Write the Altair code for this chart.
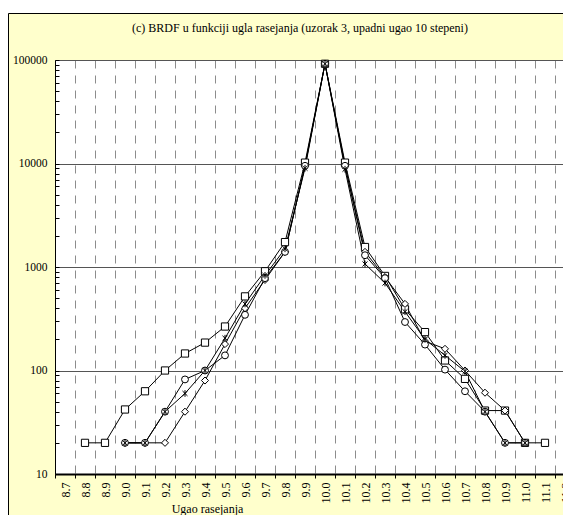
import altair as alt
import pandas as pd

labels = ['8.7', '8.8', '8.9', '9.0', '9.1', '9.2', '9.3', '9.4', '9.5', '9.6', '9.7', '9.8', '9.9',
          '10.0', '10.1', '10.2', '10.3', '10.4', '10.5', '10.6', '10.7', '10.8', '10.9', '11.0', '11.1', '11.2']

sq_x = labels[1:25]
sq_y = [20, 20, 42, 63, 100, 146, 186, 266, 520, 910, 1740, 10200, 92000, 10200, 1560, 820, 390, 235,
        125, 83, 41, 41, 20, 20]

st_x = labels[3:24]
st_y = [20, 20, 40, 60, 100, 205, 440, 830, 1500, 9000, 92000, 8800, 1070, 700, 370, 200, 140, 98, 40, 20, 20]

ci_x = labels[3:24]
ci_y = [20, 20, 40, 82, 100, 140, 345, 780, 1400, 9500, 92000, 9500, 1300, 780, 294, 178, 102, 63, 40, 20, 20]

di_x = labels[3:24]
di_y = [20, 20, 20, 40, 80, 180, 400, 750, 1400, 9500, 92000, 9500, 1400, 800, 440, 192, 162, 100, 61, 41, 20]

major_y = [10, 100, 1000, 10000, 100000]
minor_y = [m * d for d in [10, 100, 1000, 10000] for m in range(1, 10)] + [100000]

rows = []
for name, xs, ys in [('S', sq_x, sq_y), ('D', di_x, di_y), ('C', ci_x, ci_y), ('T', st_x, st_y)]:
    for xv, yv in zip(xs, ys):
        rows.append({'series': name, 'ugao': xv, 'brdf': yv, 'ugao_i': labels.index(xv)})
df = pd.DataFrame(rows)

W, H = 508, 414
FONT = 'Liberation Serif'

xscale = alt.Scale(type='band', domain=labels, paddingInner=0, paddingOuter=0, range=[0, 520])
yscale = alt.Scale(type='log', domain=[10, 100000])

xaxis = alt.Axis(tickBand='extent', grid=True, gridDash=[8, 7], gridColor='#8c8c8c',
                 gridWidth=1, ticks=True, tickSize=4, tickColor='black',
                 domainColor='black', domainWidth=2, labelAngle=270, labelFont=FONT,
                 labelFontSize=12, labelColor='black', labelPadding=4, labelOverlap=False,
                 labelBound=False, labelFlush=False, titleFont=FONT, titleFontSize=12,
                 titleFontWeight='normal', titleColor='black', titleX=152, titleY=38,
                 titleAnchor='middle', titleBaseline='alphabetic')

star_path = 'M-0.75,-0.75L0.75,0.75M-0.75,0.75L0.75,-0.75M0,-1L0,1'

one = pd.DataFrame({'k': [0]})
strip = alt.Chart(one).mark_rect(fill='white', stroke=None).encode(
    x=alt.value(-47), x2=alt.value(600), y=alt.value(-52), y2=alt.value(-47))
border = alt.Chart(one).mark_rect(fill='transparent', stroke='black', strokeWidth=1).encode(
    x=alt.value(-46.5), x2=alt.value(700), y=alt.value(-46.5), y2=alt.value(700))

lines = alt.Chart(df).mark_line(color='black', strokeWidth=1).encode(
    x=alt.X('ugao:N', scale=xscale, bandPosition=0.5, title='Ugao rasejanja', axis=xaxis),
    y=alt.Y('brdf:Q', scale=yscale, title=None,
            axis=alt.Axis(values=major_y, format='d', grid=True, gridColor='#555555', gridWidth=1,
                          ticks=False, domainColor='black', domainWidth=1, labelFont=FONT,
                          labelFontSize=11.5, labelColor='black', labelPadding=8)),
    detail='series:N',
    order=alt.Order('ugao_i:Q')
)

points = alt.Chart(df).mark_point(filled=True, fill='white', stroke='black', strokeWidth=1, opacity=1).encode(
    x=alt.X('ugao:N', scale=xscale, bandPosition=0.5, title='Ugao rasejanja', axis=xaxis),
    y=alt.Y('brdf:Q', scale=yscale,
            axis=alt.Axis(orient='right', offset=-W, values=minor_y, labels=False, grid=False,
                          domain=False, ticks=True, tickSize=4, tickColor='black', title=None)),
    shape=alt.Shape('series:N', scale=alt.Scale(domain=['S', 'D', 'C', 'T'],
                                               range=['square', 'diamond', 'circle', star_path]),
                    legend=None),
    size=alt.Size('series:N', scale=alt.Scale(domain=['S', 'D', 'C', 'T'], range=[52, 45, 22, 45]),
                  legend=None),
)

chart = alt.layer(strip, border, lines, points).resolve_axis(y='independent').properties(
    width=W, height=H,
    autosize=alt.AutoSizeParams(type='none'),
    padding={'left': 47, 'top': 52, 'right': 0, 'bottom': 41},
    title=alt.TitleParams('(c) BRDF u funkciji ugla rasejanja (uzorak 3, upadni ugao 10 stepeni)',
                          font=FONT, fontSize=12, fontWeight='normal', color='black',
                          anchor='middle', frame='group', dx=-9, offset=-39, baseline='bottom'),
).configure(background='#FFFFCC').configure_view(fill='white', stroke=None)

chart.save('out.html', embed_options={'renderer': 'svg', 'actions': False})
